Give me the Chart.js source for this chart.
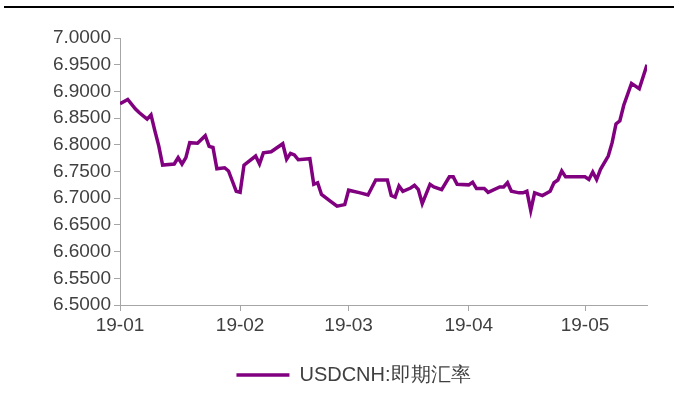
<!DOCTYPE html>
<html>
<head>
<meta charset="utf-8">
<script src="https://cdn.jsdelivr.net/npm/chart.js@4/dist/chart.umd.min.js"></script>
<style>
  html, body { margin: 0; padding: 0; background: #fff; }
  #wrap { position: relative; width: 674px; height: 417px; }
  #topRule { position: absolute; left: 4px; top: 6px; width: 670px; height: 2px; background: #000; }
  #chart { position: absolute; left: 0; top: 0; }
</style>
</head>
<body>
<div id="wrap">
  <canvas id="chart" width="674" height="417"></canvas>
  <div id="topRule"></div>
</div>
<script>
// USDCNH spot, Jan - mid May 2019
const dates = [
  '2019-01-01','2019-01-03','2019-01-05','2019-01-06','2019-01-08','2019-01-09','2019-01-10','2019-01-11','2019-01-12',
  '2019-01-15','2019-01-16','2019-01-17','2019-01-18','2019-01-19','2019-01-21','2019-01-23','2019-01-24','2019-01-25',
  '2019-01-26','2019-01-28','2019-01-29','2019-01-31','2019-02-01','2019-02-02','2019-02-05','2019-02-06','2019-02-07',
  '2019-02-09','2019-02-12','2019-02-13','2019-02-14','2019-02-15','2019-02-16','2019-02-19','2019-02-20','2019-02-21',
  '2019-02-22','2019-02-24','2019-02-26','2019-02-28','2019-03-01','2019-03-04','2019-03-06','2019-03-08','2019-03-11',
  '2019-03-12','2019-03-13','2019-03-14','2019-03-15','2019-03-17','2019-03-18','2019-03-19','2019-03-20','2019-03-22',
  '2019-03-23','2019-03-25','2019-03-27','2019-03-28','2019-03-29','2019-04-01','2019-04-02','2019-04-03','2019-04-05',
  '2019-04-06','2019-04-09','2019-04-10','2019-04-11','2019-04-12','2019-04-14','2019-04-15','2019-04-16','2019-04-17',
  '2019-04-18','2019-04-20','2019-04-22','2019-04-23','2019-04-24','2019-04-25','2019-04-26','2019-05-01','2019-05-02',
  '2019-05-03','2019-05-04','2019-05-05','2019-05-07','2019-05-08','2019-05-09','2019-05-10','2019-05-11','2019-05-13',
  '2019-05-15','2019-05-17'
];
const usdcnh = [
  6.877, 6.885, 6.867, 6.860, 6.848, 6.856, 6.826, 6.798, 6.762,
  6.764, 6.776, 6.764, 6.776, 6.804, 6.803, 6.817, 6.797, 6.795,
  6.755, 6.757, 6.751, 6.713, 6.711, 6.762, 6.779, 6.764, 6.785,
  6.787, 6.802, 6.773, 6.784, 6.781, 6.772, 6.774, 6.726, 6.729,
  6.707, 6.696, 6.685, 6.688, 6.715, 6.710, 6.706, 6.734, 6.734,
  6.705, 6.702, 6.723, 6.713, 6.719, 6.724, 6.716, 6.690, 6.726,
  6.721, 6.716, 6.740, 6.740, 6.726, 6.725, 6.730, 6.718, 6.718,
  6.711, 6.721, 6.721, 6.729, 6.713, 6.710, 6.710, 6.713, 6.677,
  6.710, 6.705, 6.713, 6.729, 6.734, 6.751, 6.740, 6.740, 6.735,
  6.749, 6.735, 6.754, 6.779, 6.804, 6.839, 6.845, 6.874, 6.915,
  6.905, 6.950
];
const monthTicks = ['2019-01-01', '2019-02-01', '2019-03-01', '2019-04-01', '2019-05-01'];
const monthLabels = ['19-01', '19-02', '19-03', '19-04', '19-05'];
const seriesName = 'USDCNH:即期汇率';

const DAY = 86400000;
const origin = Date.parse(dates[0]);
const dayOf = d => (Date.parse(d) - origin) / DAY;
const tickDays = monthTicks.map(dayOf);

const axisGrey = '#a6a6a6';
const textGrey = '#404040';
const font = { family: 'Liberation Sans, Arial, sans-serif', size: 19 };

// the legend sits centred under the plot, a bit right of the canvas middle
const legendShift = {
  id: 'legendShift',
  afterLayout(chart) {
    const lg = chart.legend;
    lg.left += 30;
    lg.right += 30;
  }
};

new Chart(document.getElementById('chart'), {
  type: 'line',
  data: {
    datasets: [{
      label: seriesName,
      data: dates.map((d, i) => ({ x: dayOf(d), y: usdcnh[i] })),
      borderColor: '#800080',
      backgroundColor: '#800080',
      borderWidth: 3.5,
      pointRadius: 0,
      tension: 0
    }]
  },
  options: {
    responsive: false,
    animation: false,
    layout: { padding: { left: 0, right: 27, top: 38, bottom: 22 } },
    scales: {
      x: {
        type: 'linear',
        min: 0,
        max: dayOf(dates[dates.length - 1]),
        afterBuildTicks: s => { s.ticks = tickDays.map(v => ({ value: v })); },
        afterFit: s => { s.height = 50; },
        ticks: {
          autoSkip: false,
          maxRotation: 0,
          padding: 3,
          color: textGrey,
          font: font,
          callback: v => monthLabels[tickDays.indexOf(v)]
        },
        grid: { drawOnChartArea: false, tickLength: 6, color: axisGrey },
        border: { color: axisGrey, width: 1 }
      },
      y: {
        min: 6.5,
        max: 7.0,
        afterFit: s => { s.width = 120; },
        ticks: {
          stepSize: 0.05,
          padding: 3,
          color: textGrey,
          font: font,
          callback: v => v.toFixed(4)
        },
        grid: { drawOnChartArea: false, tickLength: 6, color: axisGrey },
        border: { color: axisGrey, width: 1 }
      }
    },
    plugins: {
      tooltip: { enabled: false },
      legend: {
        position: 'bottom',
        labels: {
          usePointStyle: true,
          pointStyle: 'line',
          pointStyleWidth: 53,
          padding: 10,
          color: textGrey,
          font: { family: font.family, size: 20 }
        }
      }
    }
  },
  plugins: [legendShift]
});
</script>
</body>
</html>
